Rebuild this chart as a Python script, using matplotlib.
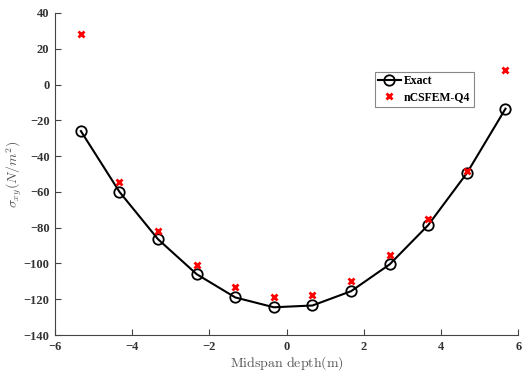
import matplotlib.pyplot as plt

x = [-5.33, -4.33, -3.33, -2.33, -1.33, -0.33, 0.67, 1.67, 2.67, 3.67, 4.67, 5.67]
exact = [-26, -60, -86.5, -106, -119, -124.5, -123.5, -115.5, -100.5, -78.5, -49.5, -13.5]
ncsfem = [28.5, -54.5, -82, -101, -113, -118.5, -117.5, -110, -95.5, -75, -48.5, 8]

plt.rcParams['mathtext.fontset'] = 'cm'
fig = plt.figure(figsize=(5.24, 3.71), dpi=100)
ax = fig.add_axes([0.105, 0.097, 0.884, 0.868])

ax.plot(x, exact, '-o', color='black', lw=1.5, ms=7.5, mfc='none', mew=1.3, label='Exact')
ax.plot(x, ncsfem, 'x', color='red', ms=4, mew=2, label='nCSFEM-Q4')

ax.set_xlim(-6, 6)
ax.set_ylim(-140, 40)
ax.set_xticks(range(-6, 7, 2))
ax.set_yticks(range(-140, 41, 20))
ax.spines['top'].set_visible(False)
ax.spines['right'].set_visible(False)
for s in ['left', 'bottom']:
    ax.spines[s].set_color('#444444')
    ax.spines[s].set_linewidth(0.8)
ax.tick_params(direction='in', length=4, color='#444444', labelsize=9, pad=4)
for lbl in ax.get_xticklabels() + ax.get_yticklabels():
    lbl.set_family('Liberation Serif')
    lbl.set_fontweight('bold')
    lbl.set_color('#333333')

ax.set_xlabel(r'$\mathrm{Midspan\ depth(m)}$', fontsize=10, color='#555555', labelpad=1)
ax.set_ylabel(r'$\sigma_{xy}(N/m^2)$', fontsize=10, color='#555555', labelpad=0)

leg = ax.legend(loc='upper left', bbox_to_anchor=(0.69, 0.817), fancybox=False,
                framealpha=1, edgecolor='#888888', handlelength=1.9, handletextpad=0.3,
                borderpad=0.3, labelspacing=0.3, borderaxespad=0,
                prop={'family': 'Liberation Serif', 'weight': 'bold', 'size': 8.5})
leg.get_frame().set_linewidth(0.8)

fig.savefig('out.png', dpi=100)
